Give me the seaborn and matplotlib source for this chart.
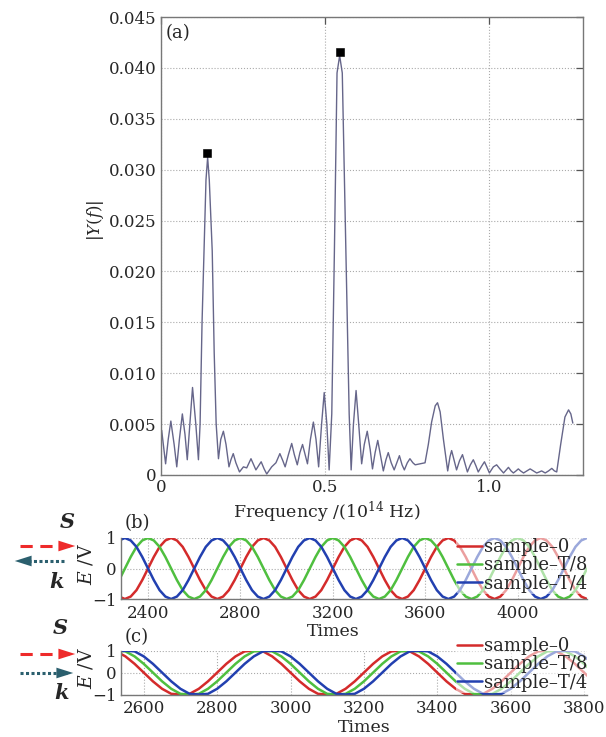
import numpy as np
import pandas as pd
import matplotlib
matplotlib.use('Agg')
import matplotlib.pyplot as plt
import seaborn as sns
from matplotlib.lines import Line2D
from matplotlib.patches import FancyArrowPatch

# ---- (a) spectrum ----
freq = [0.002, 0.007, 0.014, 0.022, 0.030, 0.040, 0.048, 0.056, 0.065, 0.073,
        0.080, 0.088, 0.096, 0.106, 0.114, 0.119, 0.125, 0.131, 0.137, 0.142,
        0.147, 0.156, 0.162, 0.168, 0.175, 0.182, 0.190, 0.198, 0.207, 0.213,
        0.220, 0.228, 0.239, 0.251, 0.261, 0.274, 0.282, 0.289, 0.305, 0.314,
        0.322, 0.337, 0.350, 0.362, 0.371, 0.378, 0.388, 0.398, 0.406, 0.415,
        0.423, 0.431, 0.439, 0.446, 0.455, 0.464, 0.472, 0.480, 0.489, 0.497,
        0.505, 0.512, 0.520, 0.528, 0.536, 0.544, 0.552, 0.563, 0.573, 0.579,
        0.586, 0.594, 0.602, 0.611, 0.619, 0.628, 0.637, 0.644, 0.652, 0.660,
        0.668, 0.677, 0.685, 0.692, 0.701, 0.710, 0.718, 0.726, 0.734, 0.741,
        0.750, 0.758, 0.767, 0.774, 0.789, 0.804, 0.814, 0.824, 0.835, 0.842,
        0.850, 0.860, 0.873, 0.880, 0.885, 0.892, 0.900, 0.909, 0.918, 0.926,
        0.933, 0.942, 0.951, 0.959, 0.966, 0.977, 0.985, 0.992, 1.000, 1.012,
        1.022, 1.032, 1.043, 1.051, 1.058, 1.066, 1.073, 1.081, 1.088, 1.095,
        1.104, 1.114, 1.124, 1.134, 1.144, 1.152, 1.159, 1.170, 1.180, 1.190,
        1.198, 1.205, 1.217, 1.230, 1.241, 1.248, 1.254]
amp = [0.0044, 0.0030, 0.0011, 0.0035, 0.0053, 0.0030, 0.0008, 0.0035, 0.0060, 0.0040,
       0.0015, 0.0050, 0.0086, 0.0050, 0.0015, 0.0050, 0.0150, 0.0220, 0.0290, 0.0312,
       0.0290, 0.0220, 0.0120, 0.0050, 0.0016, 0.0035, 0.0043, 0.0030, 0.0008, 0.0015,
       0.0021, 0.0012, 0.0003, 0.0008, 0.0007, 0.0016, 0.0010, 0.0005, 0.0013, 0.0006,
       0.0001, 0.0008, 0.0012, 0.0021, 0.0014, 0.0008, 0.0020, 0.0031, 0.0020, 0.0010,
       0.0022, 0.0030, 0.0020, 0.0011, 0.0035, 0.0052, 0.0035, 0.0008, 0.0050, 0.0081,
       0.0050, 0.0005, 0.0060, 0.0220, 0.0395, 0.0412, 0.0395, 0.0220, 0.0060, 0.0005,
       0.0050, 0.0083, 0.0050, 0.0011, 0.0030, 0.0043, 0.0025, 0.0006, 0.0022, 0.0034,
       0.0020, 0.0004, 0.0015, 0.0022, 0.0012, 0.0005, 0.0012, 0.0019, 0.0010, 0.0005,
       0.0012, 0.0016, 0.0012, 0.0010, 0.0011, 0.0012, 0.0030, 0.0052, 0.0068, 0.0071,
       0.0062, 0.0035, 0.0004, 0.0018, 0.0024, 0.0015, 0.0005, 0.0014, 0.0020, 0.0011,
       0.0003, 0.0010, 0.0015, 0.0009, 0.0003, 0.0009, 0.0013, 0.0008, 0.0002, 0.0008,
       0.0010, 0.0006, 0.0002, 0.0005, 0.00075, 0.0004, 0.0002, 0.0004, 0.0006, 0.0004,
       0.0002, 0.0004, 0.0006, 0.0004, 0.0002, 0.0003, 0.0004, 0.0002, 0.0004, 0.00065,
       0.0004, 0.0003, 0.0030, 0.0057, 0.0064, 0.0060, 0.0051]
peak_freq = [0.1415, 0.544]
peak_amp = [0.0316, 0.0416]

a_xticks = [0, 0.5, 1.0]
a_xticklabels = ['0', '0.5', '1.0']
a_yticks = [0, 0.005, 0.010, 0.015, 0.020, 0.025, 0.030, 0.035, 0.040, 0.045]
a_yticklabels = ['0', '0.005', '0.010', '0.015', '0.020', '0.025', '0.030', '0.035', '0.040', '0.045']

# ---- (b) counter-propagating samples ----
times_b = list(range(2275, 4301, 25))
red_b = [-0.92, -1, -0.92, -0.71, -0.38,
         0, 0.38, 0.71, 0.92, 1, 0.92, 0.71, 0.38, 0, -0.38, -0.71, -0.92, -1, -0.92, -0.71, -0.38,
         0, 0.38, 0.71, 0.92, 1, 0.92, 0.71, 0.38, 0, -0.38, -0.71, -0.92, -1, -0.92, -0.71, -0.38,
         0, 0.38, 0.71, 0.92, 1, 0.92, 0.71, 0.38, 0, -0.38, -0.71, -0.92, -1, -0.92, -0.71, -0.38,
         0, 0.38, 0.71, 0.92, 1, 0.92, 0.71, 0.38, 0, -0.38, -0.71, -0.92, -1, -0.92, -0.71, -0.38,
         0, 0.38, 0.71, 0.92, 1, 0.92, 0.71, 0.38, 0, -0.38, -0.71, -0.92, -1]
green_b = [-0.38,
           0, 0.38, 0.71, 0.92, 1, 0.92, 0.71, 0.38, 0, -0.38, -0.71, -0.92, -1, -0.92, -0.71, -0.38,
           0, 0.38, 0.71, 0.92, 1, 0.92, 0.71, 0.38, 0, -0.38, -0.71, -0.92, -1, -0.92, -0.71, -0.38,
           0, 0.38, 0.71, 0.92, 1, 0.92, 0.71, 0.38, 0, -0.38, -0.71, -0.92, -1, -0.92, -0.71, -0.38,
           0, 0.38, 0.71, 0.92, 1, 0.92, 0.71, 0.38, 0, -0.38, -0.71, -0.92, -1, -0.92, -0.71, -0.38,
           0, 0.38, 0.71, 0.92, 1, 0.92, 0.71, 0.38, 0, -0.38, -0.71, -0.92, -1, -0.92, -0.71, -0.38,
           0]
blue_b = [0.92, 1, 0.92, 0.71, 0.38,
          0, -0.38, -0.71, -0.92, -1, -0.92, -0.71, -0.38, 0, 0.38, 0.71, 0.92, 1, 0.92, 0.71, 0.38,
          0, -0.38, -0.71, -0.92, -1, -0.92, -0.71, -0.38, 0, 0.38, 0.71, 0.92, 1, 0.92, 0.71, 0.38,
          0, -0.38, -0.71, -0.92, -1, -0.92, -0.71, -0.38, 0, 0.38, 0.71, 0.92, 1, 0.92, 0.71, 0.38,
          0, -0.38, -0.71, -0.92, -1, -0.92, -0.71, -0.38, 0, 0.38, 0.71, 0.92, 1, 0.92, 0.71, 0.38,
          0, -0.38, -0.71, -0.92, -1, -0.92, -0.71, -0.38, 0, 0.38, 0.71, 0.92, 1]
b_xticks = [2400, 2800, 3200, 3600, 4000]

# ---- (c) co-propagating samples ----
times_c = list(range(2525, 3826, 25))
red_c = [0.97, 0.74, 0.40, 0, -0.40, -0.74, -0.97, -1, -0.97, -0.74, -0.40, 0, 0.40, 0.74, 0.97,
         1, 0.97, 0.74, 0.40, 0, -0.40, -0.74, -0.97, -1, -0.97, -0.74, -0.40, 0, 0.40, 0.74, 0.97,
         1, 0.97, 0.74, 0.40, 0, -0.40, -0.74, -0.97, -1, -0.97, -0.74, -0.40, 0, 0.40, 0.74, 0.97,
         1, 0.97, 0.74, 0.40, 0, -0.40]
green_c = [1, 0.97, 0.74, 0.40, 0, -0.40, -0.74, -0.97, -1, -0.97, -0.74, -0.40, 0, 0.40, 0.74, 0.97,
           1, 0.97, 0.74, 0.40, 0, -0.40, -0.74, -0.97, -1, -0.97, -0.74, -0.40, 0, 0.40, 0.74, 0.97,
           1, 0.97, 0.74, 0.40, 0, -0.40, -0.74, -0.97, -1, -0.97, -0.74, -0.40, 0, 0.40, 0.74, 0.97,
           1, 0.97, 0.74, 0.40, 0]
blue_c = [0.97,
          1, 0.97, 0.74, 0.40, 0, -0.40, -0.74, -0.97, -1, -0.97, -0.74, -0.40, 0, 0.40, 0.74, 0.97,
          1, 0.97, 0.74, 0.40, 0, -0.40, -0.74, -0.97, -1, -0.97, -0.74, -0.40, 0, 0.40, 0.74, 0.97,
          1, 0.97, 0.74, 0.40, 0, -0.40, -0.74, -0.97, -1, -0.97, -0.74, -0.40, 0, 0.40, 0.74, 0.97,
          1, 0.97, 0.74, 0.40]
c_xticks = [2600, 2800, 3000, 3200, 3400, 3600, 3800]

sample_names = ['sample\u20130', 'sample\u2013T/8', 'sample\u2013T/4']
sample_colors = ['#d42b2b', '#4fbf3f', '#2240b0']

W, H = 606, 737


def fx(x):
    return x / W


def fy(y):
    return 1 - y / H


def long_frame(t, series):
    rows = []
    for name, vals in zip(sample_names, series):
        rows.append(pd.DataFrame({'time': t, 'E': vals, 'sample': name}))
    return pd.concat(rows, ignore_index=True)


def style_axes(ax, box=True):
    for side, s in ax.spines.items():
        s.set_color('#777777')
        s.set_linewidth(1.0)
        if not box and side in ('top', 'right'):
            s.set_visible(False)
    ax.tick_params(direction='in', top=box, right=box, length=5, width=0.9,
                   color='#555555', labelsize=12, pad=3)
    ax.grid(True, ls=':', color='#aaaaaa', lw=0.8)
    ax.set_xlabel('')
    ax.set_ylabel('')


sns.set_style('white')
plt.rcParams['font.family'] = ['DejaVu Serif']
plt.rcParams['mathtext.fontset'] = 'dejavuserif'

fig = plt.figure(figsize=(6.06, 7.37), dpi=100)

# panel (a)
ax_a = fig.add_axes([fx(161), fy(475), fx(583) - fx(161), fy(17) - fy(475)])
sns.lineplot(x=freq, y=amp, ax=ax_a, color='#66668a', lw=1.0)
sns.scatterplot(x=peak_freq, y=peak_amp, ax=ax_a, marker='s', color='black',
                s=28, edgecolor='black', zorder=5)
ax_a.set_xlim(0, 1.285)
ax_a.set_ylim(0, 0.045)
ax_a.set_xticks(a_xticks)
ax_a.set_xticklabels(a_xticklabels)
ax_a.set_yticks(a_yticks)
ax_a.set_yticklabels(a_yticklabels)
style_axes(ax_a)
ax_a.tick_params(axis='x', pad=3)
ax_a.text(0.01, 0.985, '(a)', transform=ax_a.transAxes, ha='left', va='top', fontsize=13)
fig.text(fx(327), fy(512), 'Frequency /(10$^{14}$ Hz)', ha='center', va='center', fontsize=12.5)
fig.text(fx(95), fy(220), r'$|Y(f)|$', ha='center', va='center', rotation=90, fontsize=12)

# panel (b)
ax_b = fig.add_axes([fx(121), fy(599), fx(587) - fx(121), fy(538) - fy(599)])
df_b = long_frame(times_b, [red_b, green_b, blue_b])
sns.lineplot(data=df_b, x='time', y='E', hue='sample', palette=dict(zip(sample_names, sample_colors)),
             ax=ax_b, lw=1.8, legend=False)
ax_b.set_xlim(2283, 4300)
ax_b.set_ylim(-1, 1)
ax_b.set_xticks(b_xticks)
ax_b.set_yticks([-1, 0, 1])
style_axes(ax_b, box=False)
ax_b.tick_params(axis='x', pad=4)

# panel (c)
ax_c = fig.add_axes([fx(121), fy(694.5), fx(587) - fx(121), fy(650.7) - fy(694.5)])
df_c = long_frame(times_c, [red_c, green_c, blue_c])
sns.lineplot(data=df_c, x='time', y='E', hue='sample', palette=dict(zip(sample_names, sample_colors)),
             ax=ax_c, lw=1.8, legend=False)
ax_c.set_xlim(2538, 3808)
ax_c.set_ylim(-1, 1)
ax_c.set_xticks(c_xticks)
ax_c.set_yticks([-1, 0, 1])
style_axes(ax_c, box=False)
ax_c.tick_params(axis='x', pad=4)

handles = [Line2D([0], [0], color=c, lw=1.8) for c in sample_colors]
for ax, top in ((ax_b, 537), (ax_c, 636)):
    leg = ax.legend(handles, sample_names, loc='upper left',
                    bbox_to_anchor=(fx(456), fy(top)), bbox_transform=fig.transFigure,
                    frameon=True, framealpha=0.55, edgecolor='none', facecolor='white',
                    fontsize=13, handlelength=1.4, handletextpad=0.1,
                    labelspacing=0.02, borderpad=0.05, borderaxespad=0)
    leg.set_zorder(10)

for lab, x, y in (('(b)', 137, 523), ('(c)', 137, 637)):
    fig.text(fx(x), fy(y), lab, ha='center', va='center', fontsize=13)
for y in (564, 668):
    fig.text(fx(86), fy(y), r'$E$ /V', ha='center', va='center', rotation=90, fontsize=13.5)
fig.text(fx(333), fy(632), 'Times', ha='center', va='center', fontsize=12.5)
fig.text(fx(364), fy(727), 'Times', ha='center', va='center', fontsize=12.5)


# propagation arrows on the left
def arrow(x0, x1, y, color, ls, dashes):
    d = 1 if x1 > x0 else -1
    shaft = Line2D([fx(x0), fx(x1 - d * 9)], [fy(y), fy(y)], transform=fig.transFigure,
                   color=color, lw=2.2, ls=ls, dashes=dashes)
    fig.add_artist(shaft)
    head = FancyArrowPatch((fx(x1 - d * 14), fy(y)), (fx(x1), fy(y)), transform=fig.transFigure,
                           arrowstyle='-|>,head_length=1.1,head_width=0.35', mutation_scale=11,
                           color=color, lw=0)
    fig.add_artist(head)


red_arrow = '#ee2a2a'
teal_arrow = '#2b5f6e'
arrow(20, 78, 546, red_arrow, '--', (4, 2.5))
arrow(64, 12, 561, teal_arrow, ':', (1, 0.8))
arrow(20, 78, 654, red_arrow, '--', (4, 2.5))
arrow(20, 76, 673, teal_arrow, ':', (1, 0.8))

bold_it = dict(fontsize=15, fontweight='bold', fontstyle='italic', ha='center', va='center')
fig.text(fx(67), fy(522), 'S', **bold_it)
fig.text(fx(57), fy(582), 'k', **bold_it)
fig.text(fx(60), fy(628), 'S', **bold_it)
fig.text(fx(62), fy(693), 'k', **bold_it)

fig.savefig('out.png', dpi=100)
